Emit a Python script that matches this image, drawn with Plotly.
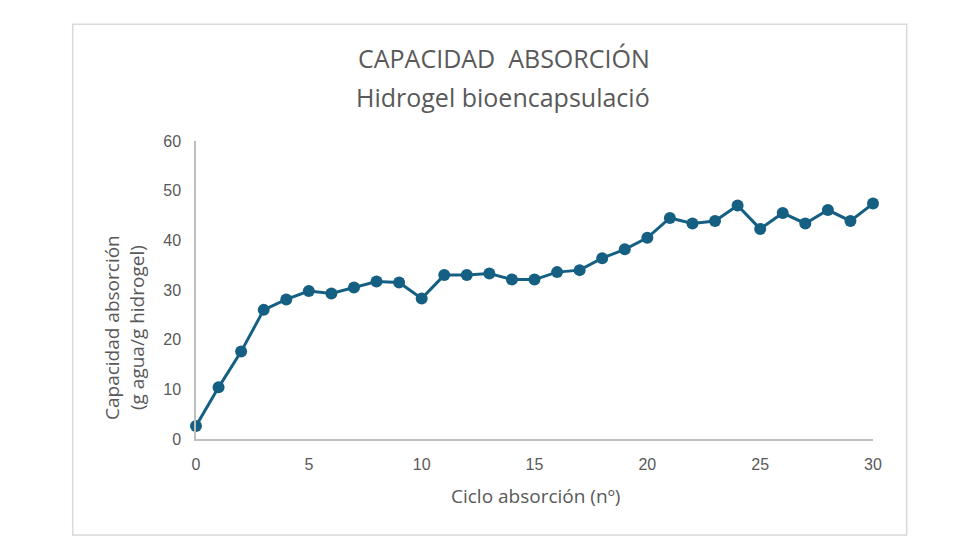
import plotly.graph_objects as go

ciclos = list(range(0, 31))
capacidad = [2.6, 10.4, 17.6, 26.0, 28.1, 29.8, 29.3, 30.5, 31.7, 31.5,
             28.3, 33.0, 33.0, 33.3, 32.1, 32.1, 33.6, 34.0, 36.4, 38.2,
             40.5, 44.5, 43.4, 43.9, 47.0, 42.3, 45.5, 43.4, 46.1, 43.9, 47.4]

title_main = "CAPACIDAD  ABSORCIÓN"
title_sub = "Hidrogel bioencapsulació"
x_title = "Ciclo absorción (nº)"
y_title = "Capacidad absorción<br>(g agua/g hidrogel)"

color = "#156082"
grey_text = "#595959"
axis_grey = "#BFBFBF"

fig = go.Figure()
fig.add_trace(go.Scatter(
    x=ciclos, y=capacidad, mode="lines+markers",
    line=dict(color=color, width=3),
    marker=dict(color=color, size=12),
    cliponaxis=False, showlegend=False,
))

# page offset of the figure (body margin)
OFF = 8
W, H = 980 - OFF, 560 - OFF
# plot area in page pixels
PX0, PX1, PY0, PY1 = 196, 873, 141, 439
L, R = PX0 - OFF, W - (PX1 - OFF)
T, B = PY0 - OFF, H - (PY1 - OFF)
pw, ph = PX1 - PX0, PY1 - PY0

def px(xp):
    return (xp - PX0) / pw

def py(yp):
    return (PY1 - yp) / ph

fig.update_layout(
    width=W, height=H,
    margin=dict(l=L, r=R, t=T, b=B),
    paper_bgcolor="white", plot_bgcolor="white",
    font=dict(family="Liberation Sans, Arial", color=grey_text),
    xaxis=dict(range=[0, 30], dtick=5, showgrid=False, zeroline=False,
               showline=True, linecolor=axis_grey, linewidth=1.5,
               ticks="", tickfont=dict(size=16, color=grey_text),
               ticklabelstandoff=10, fixedrange=True),
    yaxis=dict(range=[0, 60], dtick=10, showgrid=False, zeroline=False,
               showline=True, linecolor=axis_grey, linewidth=1.5,
               ticks="", tickfont=dict(size=16, color=grey_text),
               ticklabelstandoff=10, fixedrange=True),
    shapes=[dict(type="rect", xref="paper", yref="paper",
                 x0=px(72.7), x1=px(906.7), y0=py(535), y1=py(24.3),
                 line=dict(color="#D9D9D9", width=1.5), fillcolor="rgba(0,0,0,0)",
                 layer="below")],
    annotations=[
        dict(text=title_main, xref="paper", yref="paper", x=px(504), y=py(58),
             xanchor="center", yanchor="middle", showarrow=False,
             font=dict(family="Open Sans", size=25, color=grey_text)),
        dict(text=title_sub, xref="paper", yref="paper", x=px(503), y=py(97),
             xanchor="center", yanchor="middle", showarrow=False,
             font=dict(family="Open Sans", size=25, color=grey_text)),
        dict(text=x_title, xref="paper", yref="paper", x=px(535), y=py(496),
             xanchor="center", yanchor="middle", showarrow=False,
             font=dict(family="Open Sans", size=19, color=grey_text)),
        dict(text=y_title, xref="paper", yref="paper", x=px(124), y=py(328),
             xanchor="center", yanchor="middle", showarrow=False, textangle=-90,
             font=dict(family="Open Sans", size=19, color=grey_text)),
    ],
)

fig.write_html("out.html")
